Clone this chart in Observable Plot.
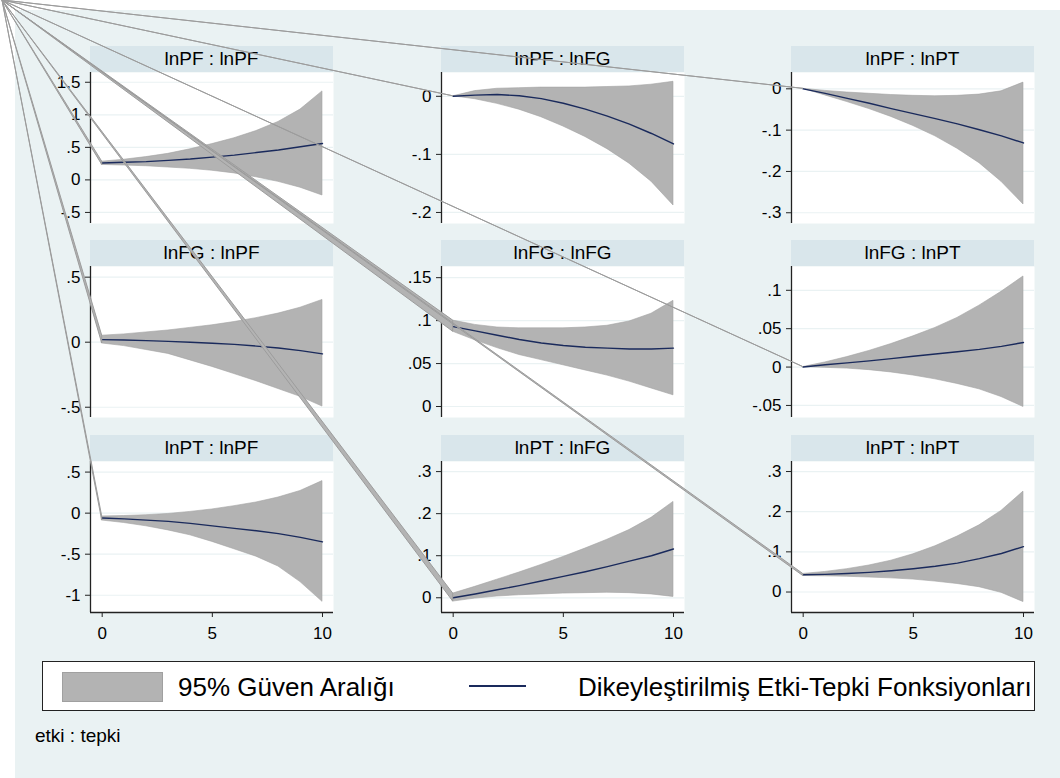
<!DOCTYPE html>
<html>
<head>
<meta charset="utf-8">
<script src="https://cdn.jsdelivr.net/npm/d3@7"></script>
<script src="https://cdn.jsdelivr.net/npm/@observablehq/plot@0.6"></script>
<style>
  html, body { margin: 0; padding: 0; background: #ffffff; }
  body { width: 1060px; height: 778px; position: relative; overflow: hidden;
         font-family: "Liberation Sans", Arial, sans-serif; color: #000; }
  #bg { position: absolute; left: 15px; top: 10px; width: 1045px; height: 768px; background: #eaf2f3; }
  .panel { position: absolute; }
  .hdr { position: absolute; background: #d9e6eb; font-size: 19px; text-align: center;
         display: flex; align-items: center; justify-content: center; }
  #legend { position: absolute; left: 42px; top: 661px; width: 991px; height: 48px;
            background: #fff; border: 1px solid #222; }
  .sw { position: absolute; }
  .lt { position: absolute; font-size: 26px; white-space: nowrap; line-height: 1; }
  #note { position: absolute; left: 35px; top: 726px; font-size: 19px; line-height: 1; }
  #overlay { position: absolute; left: 0; top: 0; pointer-events: none; }
</style>
</head>
<body>
<div id="bg"></div>
<div id="root"></div>
<div id="legend"></div>
<div id="note"></div>
<script>
// ---------------- data ----------------
const steps = [0, 1, 2, 3, 4, 5, 6, 7, 8, 9, 10];

const panelTitles = [
  "lnPF : lnPF", "lnPF : lnFG", "lnPF : lnPT",
  "lnFG : lnPF", "lnFG : lnFG", "lnFG : lnPT",
  "lnPT : lnPF", "lnPT : lnFG", "lnPT : lnPT"
];

// lnPF : lnPF
const irfPFPF = [0.26, 0.27, 0.28, 0.30, 0.32, 0.35, 0.38, 0.42, 0.46, 0.51, 0.56];
const loPFPF  = [0.23, 0.22, 0.21, 0.19, 0.17, 0.14, 0.10, 0.04, -0.03, -0.12, -0.24];
const hiPFPF  = [0.28, 0.31, 0.35, 0.40, 0.47, 0.55, 0.64, 0.75, 0.89, 1.08, 1.36];
// lnPF : lnFG
const irfPFFG = [0, 0.002, 0.003, 0.001, -0.004, -0.012, -0.022, -0.034, -0.048, -0.064, -0.082];
const loPFFG  = [0, -0.005, -0.013, -0.023, -0.036, -0.052, -0.070, -0.091, -0.116, -0.147, -0.188];
const hiPFFG  = [0, 0.009, 0.013, 0.014, 0.015, 0.015, 0.015, 0.016, 0.017, 0.020, 0.025];
// lnPF : lnPT
const irfPFPT = [0, -0.011, -0.023, -0.035, -0.048, -0.060, -0.072, -0.085, -0.099, -0.114, -0.131];
const loPFPT  = [0, -0.016, -0.032, -0.049, -0.068, -0.090, -0.115, -0.145, -0.180, -0.225, -0.280];
const hiPFPT  = [0, -0.005, -0.009, -0.012, -0.015, -0.017, -0.018, -0.017, -0.014, -0.006, 0.015];
// lnFG : lnPF
const irfFGPF = [0.02, 0.017, 0.012, 0.006, 0, -0.008, -0.017, -0.03, -0.045, -0.065, -0.09];
const loFGPF  = [-0.01, -0.03, -0.06, -0.09, -0.14, -0.19, -0.245, -0.30, -0.36, -0.42, -0.495];
const hiFGPF  = [0.05, 0.06, 0.075, 0.09, 0.11, 0.13, 0.155, 0.185, 0.22, 0.265, 0.325];
// lnFG : lnFG
const irfFGFG = [0.093, 0.088, 0.083, 0.078, 0.074, 0.071, 0.069, 0.068, 0.067, 0.067, 0.068];
const loFGFG  = [0.087, 0.077, 0.068, 0.060, 0.054, 0.048, 0.042, 0.036, 0.029, 0.021, 0.013];
const hiFGFG  = [0.100, 0.095, 0.092, 0.091, 0.091, 0.091, 0.092, 0.094, 0.099, 0.108, 0.123];
// lnFG : lnPT
const irfFGPT = [0, 0.003, 0.0055, 0.008, 0.011, 0.014, 0.017, 0.020, 0.023, 0.027, 0.032];
const loFGPT  = [0, -0.001, -0.002, -0.004, -0.007, -0.011, -0.016, -0.022, -0.029, -0.039, -0.052];
const hiFGPT  = [0, 0.006, 0.013, 0.021, 0.030, 0.040, 0.051, 0.064, 0.080, 0.098, 0.118];
// lnPT : lnPF
const irfPTPF = [-0.06, -0.07, -0.085, -0.10, -0.125, -0.155, -0.185, -0.215, -0.25, -0.295, -0.35];
const loPTPF  = [-0.09, -0.12, -0.16, -0.21, -0.27, -0.35, -0.44, -0.53, -0.65, -0.84, -1.08];
const hiPTPF  = [-0.04, -0.035, -0.025, -0.01, 0.015, 0.045, 0.085, 0.13, 0.19, 0.27, 0.39];
// lnPT : lnFG
const irfPTFG = [0, 0.009, 0.019, 0.029, 0.040, 0.051, 0.062, 0.074, 0.087, 0.100, 0.116];
const loPTFG  = [-0.009, -0.002, 0.003, 0.006, 0.008, 0.010, 0.011, 0.012, 0.011, 0.008, 0.002];
const hiPTFG  = [0.010, 0.026, 0.043, 0.060, 0.078, 0.097, 0.117, 0.138, 0.161, 0.190, 0.228];
// lnPT : lnPT
const irfPTPT = [0.043, 0.044, 0.046, 0.049, 0.053, 0.058, 0.064, 0.072, 0.083, 0.096, 0.113];
const loPTPT  = [0.040, 0.039, 0.038, 0.036, 0.034, 0.031, 0.026, 0.020, 0.012, -0.002, -0.025];
const hiPTPT  = [0.045, 0.050, 0.057, 0.066, 0.078, 0.094, 0.114, 0.138, 0.166, 0.202, 0.250];

// y tick labels per panel
const yTicks = [
  [-0.5, 0, 0.5, 1, 1.5], [-0.2, -0.1, 0], [-0.3, -0.2, -0.1, 0],
  [-0.5, 0, 0.5], [0, 0.05, 0.1, 0.15], [-0.05, 0, 0.05, 0.1],
  [-1, -0.5, 0, 0.5], [0, 0.1, 0.2, 0.3], [0, 0.1, 0.2, 0.3]
];
const xTicks = [0, 5, 10];

const legendLabels = ["95% Güven Aralığı", "Dikeyleştirilmiş Etki-Tepki Fonksiyonları"];
const noteText = "etki : tepki";

// ---------------- build ----------------
const series = [
  [irfPFPF, loPFPF, hiPFPF], [irfPFFG, loPFFG, hiPFFG], [irfPFPT, loPFPT, hiPFPT],
  [irfFGPF, loFGPF, hiFGPF], [irfFGFG, loFGFG, hiFGFG], [irfFGPT, loFGPT, hiFGPT],
  [irfPTPF, loPTPF, hiPTPF], [irfPTFG, loPTFG, hiPTFG], [irfPTPT, loPTPT, hiPTPT]
];
// y-scale domains (Stata pads the tick range a little)
const yDomains = [
  [-0.67, 1.65], [-0.219, 0.041], [-0.326, 0.0395],
  [-0.579, 0.582], [-0.0128, 0.163], [-0.0657, 0.131],
  [-1.21, 0.629], [-0.035, 0.324], [-0.051, 0.325]
];
const xDomain = [-0.53, 10.5];

const BAND = "#b3b3b3", BAND_EDGE = "#a2a2a2", LINE = "#1a2a5c";
const colLeft = [90, 441, 791];
const rowTop = [72, 266, 461];
const PW = 243, PH = 151, HDR = 26, ML = 60, MR = 1, MB_LAST = 40;

const fmt = d => {
  const s = String(+d.toFixed(4));
  return s.replace(/^(-?)0\./, "$1.");
};

const root = document.getElementById("root");
const starts = [];

series.forEach(([irf, lo, hi], i) => {
  const r = Math.floor(i / 3), c = i % 3;
  const last = r === 2;
  const rows = steps.map((s, k) => ({step: s, irf: irf[k], lo: lo[k], hi: hi[k]}));
  const dom = yDomains[i];
  const marks = [
    Plot.frame({fill: "#ffffff", stroke: "none"}),
    Plot.gridY(yTicks[i], {stroke: "#eaf2f3", strokeOpacity: 1, strokeWidth: 1.2}),
    Plot.areaY(rows, {x: "step", y1: "lo", y2: "hi", fill: BAND, fillOpacity: 1, stroke: BAND_EDGE, strokeWidth: 0.6}),
    Plot.lineY(rows, {x: "step", y: "irf", stroke: LINE, strokeWidth: 1.4}),
    Plot.ruleX([xDomain[0]], {stroke: "#222", strokeWidth: 1.3}),
    Plot.axisY(yTicks[i], {anchor: "left", label: null, tickSize: 5, tickPadding: 5, tickFormat: fmt, fontSize: 17, stroke: "#222", fill: "#000"})
  ];
  if (last) {
    marks.push(Plot.ruleY([dom[0]], {stroke: "#222", strokeWidth: 1.3}));
    marks.push(Plot.axisX(xTicks, {anchor: "bottom", label: null, tickSize: 5, tickPadding: 9, tickFormat: d => String(d), fontSize: 17, stroke: "#222", fill: "#000"}));
  }
  const chart = Plot.plot({
    width: ML + PW + MR,
    height: PH + (last ? MB_LAST : 0),
    marginLeft: ML, marginRight: MR, marginTop: 0, marginBottom: last ? MB_LAST : 0,
    x: {domain: xDomain, axis: null},
    y: {domain: dom, axis: null},
    style: {background: "transparent", fontFamily: '"Liberation Sans", Arial, sans-serif', fontSize: "17px", color: "#000", overflow: "visible"},
    marks
  });
  const left = colLeft[c] - ML, top = rowTop[r];
  const wrap = document.createElement("div");
  wrap.className = "panel";
  wrap.style.left = left + "px";
  wrap.style.top = top + "px";
  wrap.appendChild(chart);
  root.appendChild(wrap);

  const h = document.createElement("div");
  h.className = "hdr";
  h.style.left = colLeft[c] + "px";
  h.style.top = (top - HDR) + "px";
  h.style.width = PW + "px";
  h.style.height = HDR + "px";
  h.textContent = panelTitles[i];
  root.appendChild(h);

  // start of the band in page coordinates (via the plot's own scales)
  const xs = chart.scale("x"), ys = chart.scale("y");
  starts.push({
    x: left + xs.apply(steps[0]),
    yHi: top + ys.apply(hi[0]),
    yLo: top + ys.apply(lo[0])
  });
});

// Stata render artefact: each confidence polygon also touches the page corner
const overlay = d3.select("body").append("svg")
  .attr("id", "overlay").attr("width", 1060).attr("height", 778);
const corner = [2, 0];
overlay.selectAll("path").data(starts).join("path")
  .attr("d", s => `M${corner[0]},${corner[1]}L${s.x},${s.yHi}L${s.x},${s.yLo}Z`)
  .attr("fill", BAND).attr("stroke", "#9c9c9c").attr("stroke-width", 1)
  .attr("stroke-linejoin", "round");

// ---------------- legend ----------------
const leg = document.getElementById("legend");
const sw1 = document.createElement("div");
sw1.className = "sw";
Object.assign(sw1.style, {left: "19px", top: "10px", width: "99px", height: "28px", background: BAND, border: "1px solid #a0a0a0"});
leg.appendChild(sw1);
const t1 = document.createElement("div");
t1.className = "lt";
Object.assign(t1.style, {left: "135px", top: "12px"});
t1.textContent = legendLabels[0];
leg.appendChild(t1);
const sw2 = document.createElement("div");
sw2.className = "sw";
Object.assign(sw2.style, {left: "426px", top: "23px", width: "57px", height: "2px", background: LINE});
leg.appendChild(sw2);
const t2 = document.createElement("div");
t2.className = "lt";
Object.assign(t2.style, {left: "535px", top: "12px"});
t2.textContent = legendLabels[1];
leg.appendChild(t2);

document.getElementById("note").textContent = noteText;
</script>
</body>
</html>
